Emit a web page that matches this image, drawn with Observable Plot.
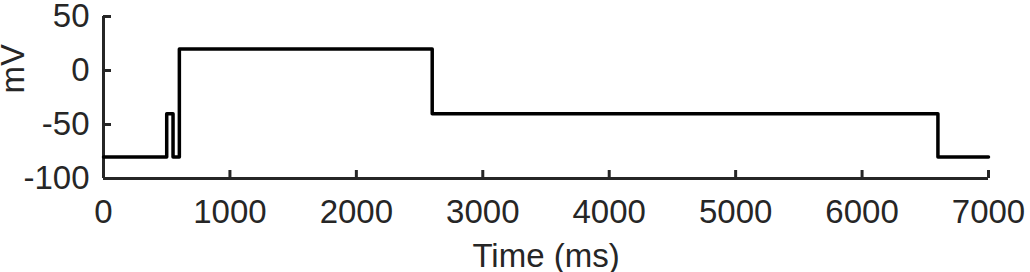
<!DOCTYPE html>
<html><head><meta charset="utf-8">
<script src="https://cdn.jsdelivr.net/npm/d3@7"></script>
<script src="https://cdn.jsdelivr.net/npm/@observablehq/plot@0.6"></script>
<style>body{margin:0;background:#fff;}</style>
</head><body><div id="chart"></div>
<script>
const timeMs =    [0,   500, 500, 550, 550, 600, 600, 2600, 2600, 6600, 6600, 7000];
const voltageMv = [-80, -80, -40, -40, -80, -80, 20,  20,   -40,  -40,  -80,  -80];
const xTicks = [0, 1000, 2000, 3000, 4000, 5000, 6000, 7000];
const yTicks = [-100, -50, 0, 50];
const xLabel = "Time (ms)";
const yLabel = "mV";

const data = timeMs.map((t, i) => ({t, v: voltageMv[i]}));
const axisColor = "#262626";
const font = "'Liberation Sans', Arial, Helvetica, sans-serif";

const chart = Plot.plot({
  width: 1030, height: 272,
  marginLeft: 103, marginRight: 42, marginTop: 16, marginBottom: 94,
  style: {fontFamily: font, fontSize: "33px", color: axisColor, background: "#fff"},
  x: {domain: [0, 7000]},
  y: {domain: [-100, 50]},
  marks: [
    Plot.axisX({ticks: xTicks, tickSize: -8, tickPadding: 29, tickFormat: d => String(d), label: null, stroke: axisColor, strokeWidth: 3, fill: axisColor, fontSize: 33}),
    Plot.axisY({ticks: yTicks, tickSize: -8, tickPadding: 22, tickFormat: d => String(d), label: null, stroke: axisColor, strokeWidth: 3, fill: axisColor, fontSize: 33}),
    Plot.ruleY([-100], {stroke: axisColor, strokeWidth: 3}),
    Plot.ruleX([0], {stroke: axisColor, strokeWidth: 3}),
    Plot.line(data, {x: "t", y: "v", stroke: "black", strokeWidth: 3.5}),
    Plot.text([xLabel], {text: d => d, frameAnchor: "bottom", dy: 88, lineAnchor: "bottom", fontSize: 33, fill: axisColor}),
    Plot.text([yLabel], {text: d => d, frameAnchor: "left", rotate: -90, dx: -80, dy: -4, lineAnchor: "bottom", fontSize: 33, fill: axisColor})
  ]
});
document.getElementById("chart").appendChild(chart);
</script>
</body></html>
